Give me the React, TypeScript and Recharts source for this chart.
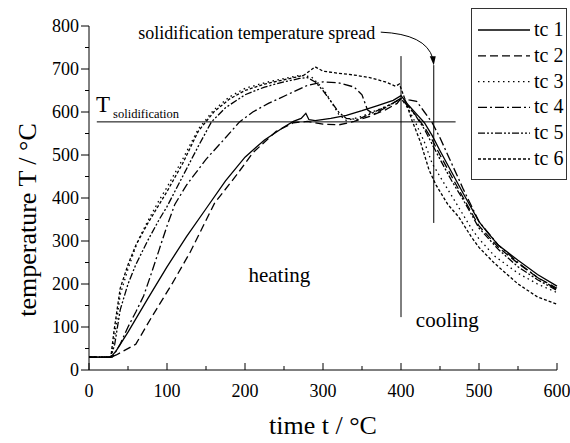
import { LineChart, Line, XAxis, YAxis, ReferenceLine, ReferenceDot } from 'recharts'

const FONT = '"Liberation Serif", "Times New Roman", serif'

// thermocouple readings, time in s, temperature in °C
const tc1Time = [0, 28, 35, 50, 75, 100, 125, 150, 175, 200, 225, 250, 262, 272, 278, 282, 290, 310, 330, 350, 370, 390, 400, 410, 420, 430, 440, 450, 465, 480, 500, 510, 525, 550, 575, 600]
const tc1Temp = [30, 30, 45, 88, 165, 240, 310, 375, 440, 495, 535, 565, 578, 585, 597, 582, 580, 585, 592, 603, 615, 627, 638, 615, 595, 575, 545, 510, 460, 410, 345, 322, 290, 255, 222, 195]

const tc2Time = [0, 28, 35, 45, 60, 80, 107, 130, 161, 189, 210, 240, 262, 280, 300, 320, 340, 360, 380, 395, 400, 410, 420, 430, 440, 450, 465, 480, 500, 525, 550, 575, 600]
const tc2Temp = [30, 30, 35, 45, 60, 122, 202, 275, 388, 453, 505, 555, 575, 578, 572, 570, 578, 590, 605, 620, 632, 612, 590, 565, 535, 500, 450, 400, 335, 285, 248, 215, 190]

const tc3Time = [0, 28, 33, 40, 50, 63, 75, 90, 100, 120, 140, 160, 180, 200, 225, 250, 270, 285, 300, 310, 320, 330, 350, 370, 390, 400, 410, 420, 430, 440, 450, 470, 490, 500, 520, 550, 575, 600]
const tc3Temp = [30, 30, 80, 175, 235, 302, 345, 395, 425, 490, 560, 605, 635, 655, 668, 678, 685, 682, 655, 625, 595, 580, 590, 605, 620, 632, 605, 570, 530, 480, 450, 390, 330, 305, 265, 225, 200, 180]

const tc4Time = [0, 30, 40, 50, 60, 70, 80, 90, 100, 110, 125, 150, 175, 193, 210, 230, 260, 280, 300, 320, 340, 350, 357, 365, 380, 400, 410, 420, 430, 440, 450, 465, 480, 500, 525, 550, 575, 600]
const tc4Temp = [30, 30, 60, 100, 135, 172, 225, 280, 335, 385, 430, 490, 540, 577, 600, 620, 645, 662, 670, 668, 658, 640, 605, 595, 610, 632, 628, 625, 600, 575, 540, 480, 420, 345, 290, 250, 215, 187]

const tc5Time = [0, 28, 33, 40, 50, 60, 75, 90, 100, 120, 140, 157, 175, 200, 225, 250, 270, 280, 290, 300, 310, 320, 330, 345, 360, 380, 400, 410, 420, 430, 440, 450, 465, 480, 500, 525, 550, 575, 600]
const tc5Temp = [30, 30, 60, 140, 200, 245, 300, 350, 380, 450, 520, 577, 610, 640, 658, 670, 678, 680, 670, 650, 625, 600, 585, 583, 595, 612, 630, 612, 588, 560, 525, 490, 440, 395, 330, 280, 240, 210, 185]

const tc6Time = [0, 28, 32, 40, 50, 60, 75, 90, 100, 120, 140, 160, 180, 200, 225, 250, 275, 290, 300, 320, 340, 360, 380, 393, 398, 405, 414, 425, 436, 445, 460, 474, 490, 500, 520, 550, 575, 600]
const tc6Temp = [30, 30, 90, 190, 245, 290, 340, 385, 415, 480, 555, 600, 630, 650, 665, 675, 685, 705, 695, 690, 686, 680, 670, 660, 665, 630, 581, 530, 465, 430, 385, 356, 310, 285, 248, 200, 170, 153]

const seriesNames = ['tc 1', 'tc 2', 'tc 3', 'tc 4', 'tc 5', 'tc 6']
const dashes = ['', '8 4', '1.5 3.5', '9 3 2 3', '7 2 2 2 2 2', '3 2']

const xTicks = [0, 50, 100, 150, 200, 250, 300, 350, 400, 450, 500, 550, 600]
const yTicks = [0, 50, 100, 150, 200, 250, 300, 350, 400, 450, 500, 550, 600, 650, 700, 750, 800]

const tSolidification = 577
const heatingEnd = 400
const spreadEnd = 442

const toPoints = (t: number[], T: number[]) => t.map((x, i) => ({ t: x, T: T[i] }))
const series = [
  toPoints(tc1Time, tc1Temp),
  toPoints(tc2Time, tc2Temp),
  toPoints(tc3Time, tc3Temp),
  toPoints(tc4Time, tc4Temp),
  toPoints(tc5Time, tc5Temp),
  toPoints(tc6Time, tc6Temp),
]

function XTick({ x, y, payload }: any) {
  const major = payload.value % 100 === 0
  return (
    <g>
      <line x1={x} x2={x} y1={y} y2={y - (major ? 7 : 4)} stroke="#000" />
      {major && (
        <text x={x} y={y + 27} textAnchor="middle" fontFamily={FONT} fontSize={18} fill="#000">
          {payload.value}
        </text>
      )}
    </g>
  )
}

function YTick({ x, y, payload }: any) {
  const major = payload.value % 100 === 0
  return (
    <g>
      <line x1={x} x2={x - (major ? 8 : 4)} y1={y} y2={y} stroke="#000" />
      {major && (
        <text x={x - 10} y={y} dy="0.35em" textAnchor="end" fontFamily={FONT} fontSize={18} fill="#000">
          {payload.value}
        </text>
      )}
    </g>
  )
}

const textAt = (value: string, size: number, anchor: string = 'start') => (p: any) => (
  <text x={p.viewBox.x} y={p.viewBox.y} textAnchor={anchor} fontFamily={FONT} fontSize={size} fill="#000">
    {value}
  </text>
)

const tLabel = (p: any) => (
  <text x={p.viewBox.x} y={p.viewBox.y} fontFamily={FONT} fill="#000">
    <tspan fontSize={23}>T</tspan>
    <tspan fontSize={12.5} dx={3} dy={6}>solidification</tspan>
  </text>
)

const arrow = (p: any) => {
  const cx = p.viewBox.x
  const cy = p.viewBox.y
  return (
    <g>
      <path d={`M ${cx - 53} ${cy - 33} Q ${cx - 8} ${cy - 31} ${cx - 1} ${cy - 7}`} fill="none" stroke="#000" />
      <path d={`M ${cx - 4} ${cy - 9} L ${cx + 2} ${cy - 9} L ${cx} ${cy} Z`} fill="#000" />
    </g>
  )
}

function LegendBox() {
  return (
    <svg
      width={97}
      height={173}
      style={{ position: 'absolute', left: 471, top: 8, background: '#fff' }}
    >
      <rect x={0.5} y={0.5} width={95} height={171} fill="#fff" stroke="#333" />
      {seriesNames.map((name, i) => {
        const y = 22 + i * 25.8
        return (
          <g key={name}>
            <line x1={7} x2={59} y1={y} y2={y} stroke="#000" strokeWidth={1.3} strokeDasharray={dashes[i] || undefined} />
            <text x={63} y={y + 6} fontFamily={FONT} fontSize={20} fill="#000">
              {name}
            </text>
          </g>
        )
      })}
    </svg>
  )
}

export default function App() {
  return (
    <div style={{ position: 'absolute', left: 0, top: 0, width: 570, height: 443, background: '#fff' }}>
      <LineChart width={570} height={443} margin={{ top: 26, right: 13, bottom: 43, left: 0 }}>
        <XAxis
          dataKey="t"
          type="number"
          domain={[0, 600]}
          ticks={xTicks}
          interval={0}
          tickSize={0}
          tickMargin={0}
          tickLine={false}
          tick={<XTick />}
          height={30}
          stroke="#000"
          allowDuplicatedCategory={false}
        />
        <YAxis
          type="number"
          domain={[0, 800]}
          ticks={yTicks}
          interval={0}
          tickSize={0}
          tickMargin={0}
          tickLine={false}
          tick={<YTick />}
          width={89}
          stroke="#000"
        />
        <ReferenceLine segment={[{ x: 10, y: tSolidification }, { x: 470, y: tSolidification }]} stroke="#000" />
        <ReferenceLine segment={[{ x: heatingEnd, y: 123 }, { x: heatingEnd, y: 730 }]} stroke="#000" />
        <ReferenceLine segment={[{ x: spreadEnd, y: 342 }, { x: spreadEnd, y: 709 }]} stroke="#000" />
        {series.map((pts, i) => (
          <Line
            key={seriesNames[i]}
            data={pts}
            dataKey="T"
            name={seriesNames[i]}
            type="linear"
            dot={false}
            stroke="#000"
            strokeWidth={1.3}
            strokeDasharray={dashes[i] || undefined}
            isAnimationActive={false}
          />
        ))}
        <ReferenceDot x={9} y={600} r={0} stroke="none" fill="none" label={tLabel} />
        <ReferenceDot x={215} y={770} r={0} stroke="none" fill="none" label={textAt('solidification temperature spread', 18, 'middle')} />
        <ReferenceDot x={244} y={205} r={0} stroke="none" fill="none" label={textAt('heating', 21, 'middle')} />
        <ReferenceDot x={419} y={100} r={0} stroke="none" fill="none" label={textAt('cooling', 21)} />
        <ReferenceDot x={spreadEnd} y={709} r={0} stroke="none" fill="none" label={arrow} />
      </LineChart>
      <svg width={570} height={443} style={{ position: 'absolute', left: 0, top: 0, pointerEvents: 'none' }}>
        <text x={36} y={220} transform="rotate(-90 36 220)" textAnchor="middle" fontFamily={FONT} fontSize={26} fill="#000">
          temperature T / °C
        </text>
        <text x={323} y={434} textAnchor="middle" fontFamily={FONT} fontSize={26} fill="#000">
          time t / °C
        </text>
      </svg>
      <LegendBox />
    </div>
  )
}
